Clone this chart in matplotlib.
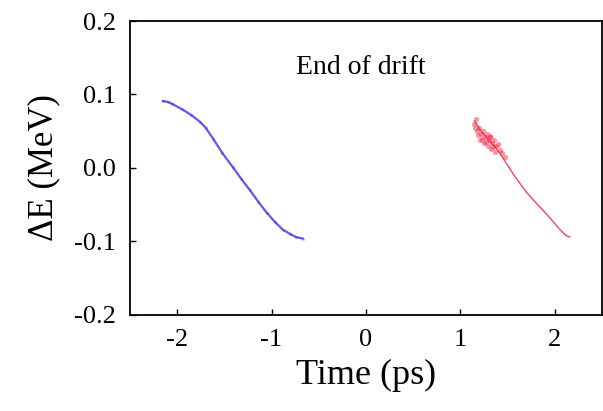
import matplotlib
import matplotlib.pyplot as plt

matplotlib.use("Agg")

# bunch 1 (head), time in ps and energy deviation in MeV
blue_t = [-2.15, -2.10, -2.05, -1.95, -1.85, -1.76, -1.70, -1.62, -1.52,
          -1.41, -1.32, -1.23, -1.14, -1.05, -0.96, -0.88, -0.80, -0.74,
          -0.67]
blue_e = [0.091, 0.090, 0.087, 0.080, 0.072, 0.063, 0.055, 0.040, 0.020,
          0.001, -0.015, -0.030, -0.046, -0.061, -0.074, -0.084, -0.090,
          -0.094, -0.096]

# bunch 2 (tail) core line
red_t = [1.15, 1.18, 1.22, 1.30, 1.38, 1.45, 1.58, 1.70, 1.82, 1.95, 2.05,
         2.12, 2.16]
red_e = [0.064, 0.058, 0.050, 0.038, 0.027, 0.014, -0.012, -0.033, -0.050,
         -0.068, -0.083, -0.092, -0.094]

# denser particles near the top of bunch 2
blob_t = [1.14, 1.16, 1.18, 1.20, 1.22, 1.24, 1.26, 1.28, 1.30, 1.32, 1.34,
          1.36, 1.38, 1.40, 1.42, 1.19, 1.23, 1.27, 1.31, 1.35, 1.25, 1.29,
          1.33, 1.21, 1.37, 1.44, 1.47, 1.17]
blob_e = [0.060, 0.055, 0.050, 0.054, 0.046, 0.050, 0.042, 0.046, 0.038,
          0.042, 0.034, 0.038, 0.030, 0.033, 0.024, 0.045, 0.040, 0.036,
          0.044, 0.028, 0.034, 0.030, 0.026, 0.038, 0.022, 0.020, 0.015,
          0.066]

plt.rcParams['font.family'] = ['Liberation Serif', 'DejaVu Serif']

fig = plt.figure(figsize=(6.03, 4.11), dpi=100)
ax = fig.add_axes([0.2156, 0.2336, 0.7825, 0.7153])

ax.plot(blue_t, blue_e, color='#3c30e0', lw=1.6, alpha=0.8)
ax.scatter(blue_t, blue_e, s=5, color='#6a60f0', alpha=0.4, lw=0)
ax.plot(red_t, red_e, color='#f01838', lw=1.0, alpha=0.8)
ax.scatter(blob_t, blob_e, s=14, color='#f01535', alpha=0.45, lw=0)

ax.text(-0.05, 0.137, 'End of drift', fontsize=20, ha='center',
        va='center')

ax.set_xlim(-2.5, 2.5)
ax.set_ylim(-0.2, 0.2)
ax.set_xticks([-2, -1, 0, 1, 2])
ax.set_xticklabels(['-2', '-1', '0', '1', '2'])
ax.set_yticks([-0.2, -0.1, 0.0, 0.1, 0.2])
ax.set_yticklabels(['-0.2', '-0.1', '0.0', '0.1', '0.2'])
ax.tick_params(direction='in', length=4, width=1, labelsize=19, pad=10)
for s in ax.spines.values():
    s.set_linewidth(1.3)

ax.set_xlabel('Time (ps)', fontsize=26, labelpad=6)
ax.set_ylabel('\u0394E (MeV)', fontsize=25, labelpad=10)

plt.savefig('out.png', dpi=100)
